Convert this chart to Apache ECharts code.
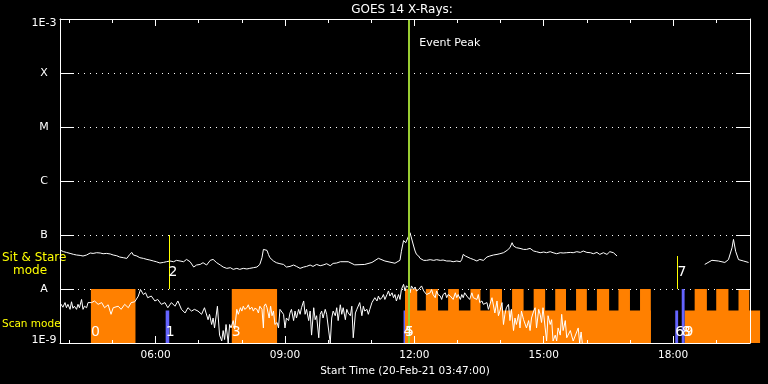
<!DOCTYPE html>
<html><head><meta charset="utf-8">
<script src="https://cdn.jsdelivr.net/npm/echarts@6/dist/echarts.min.js"></script>
<style>html,body{margin:0;padding:0;background:#000;}#c{width:768px;height:384px;}</style>
</head><body><div id="c"></div>
<script>
const START = '03:47';
const END = '19:47';
const FONT = 'DejaVu Sans';
const xHourTicks = [4,5,6,7,8,9,10,11,12,13,14,15,16,17,18,19];
const xTickHours = [6,9,12,15,18];
const xTickLabels = ['06:00','09:00','12:00','15:00','18:00'];
const yTickLabels = ['1E-9','A','B','C','M','X','1E-3'];

// GOES long channel (minutes after start, flux W/m^2); null = data gap
const longMin = [1,5,9,14,19,23,28,32,37,42,46,51,56,60,65,70,74,79,83,88,93,95,97,100,102,107,111,116,121,125,130,134,139,144,148,153,158,162,167,172,176,181,186,190,195,199,204,209,211,213,218,223,227,232,237,241,246,250,255,260,264,269,274,278,281,283,285,288,290,292,297,301,306,311,315,320,325,329,334,339,343,348,352,357,362,366,371,376,380,385,390,401,410,424,434,443,452,466,473,475,478,481,482,487,489,492,494,496,499,501,503,506,510,515,520,524,529,533,538,543,547,552,557,559,561,564,566,571,575,580,584,589,594,598,603,608,612,617,622,626,629,631,635,640,645,649,654,659,663,668,673,677,682,686,691,696,700,705,710,714,719,724,728,733,738,742,747,751,756,761,765,770,772,775,
840,897,907,916,925,930,935,937,940,944,951,958];
const longFlux = [5.19e-8,4.91e-8,4.76e-8,4.56e-8,4.37e-8,4.26e-8,4.19e-8,4.08e-8,4.26e-8,4.64e-8,4.56e-8,4.7e-8,4.64e-8,4.5e-8,4.56e-8,4.45e-8,4.26e-8,4.13e-8,3.91e-8,3.8e-8,3.69e-8,3.39e-8,4.37e-8,4.76e-8,4.26e-8,4.08e-8,3.8e-8,3.69e-8,3.53e-8,3.44e-8,3.3e-8,3.2e-8,3.03e-8,3.11e-8,3.2e-8,3.3e-8,3.2e-8,3.39e-8,3.3e-8,3.2e-8,3.53e-8,3.2e-8,2.55e-8,2.78e-8,2.85e-8,3.07e-8,2.78e-8,3.39e-8,3.69e-8,3.53e-8,3.07e-8,2.78e-8,2.55e-8,2.41e-8,2.48e-8,2.31e-8,2.41e-8,2.31e-8,2.41e-8,2.35e-8,2.41e-8,2.48e-8,2.55e-8,2.85e-8,3.8e-8,5.41e-8,5.82e-8,5.19e-8,4.37e-8,3.8e-8,3.3e-8,3.07e-8,2.94e-8,2.85e-8,2.55e-8,2.62e-8,2.78e-8,2.62e-8,2.41e-8,2.55e-8,2.62e-8,2.78e-8,2.62e-8,2.85e-8,2.7e-8,2.78e-8,2.94e-8,2.7e-8,2.98e-8,3.03e-8,3.2e-8,3.2e-8,2.8e-8,2.85e-8,3.1e-8,3.7e-8,3.3e-8,3.0e-8,3.4e-8,5.0e-8,7.9e-8,7.2e-8,7.5e-8,1.1e-7,1.15e-7,6.25e-8,5.05e-8,4.37e-8,4.08e-8,3.69e-8,3.53e-8,3.39e-8,3.39e-8,3.49e-8,3.39e-8,3.49e-8,3.39e-8,3.44e-8,3.3e-8,3.3e-8,3.2e-8,3.3e-8,3.2e-8,3.53e-8,4.37e-8,4.08e-8,3.91e-8,3.69e-8,3.53e-8,3.3e-8,3.53e-8,3.39e-8,3.91e-8,4.08e-8,4.26e-8,4.37e-8,4.5e-8,4.7e-8,5.19e-8,5.82e-8,7.2e-8,6.25e-8,5.82e-8,5.65e-8,5.41e-8,5.41e-8,5.65e-8,5.05e-8,4.91e-8,4.7e-8,4.84e-8,4.7e-8,4.91e-8,4.7e-8,4.5e-8,4.7e-8,4.64e-8,4.7e-8,4.76e-8,4.7e-8,4.91e-8,4.76e-8,5.05e-8,4.76e-8,4.7e-8,4.5e-8,4.76e-8,4.37e-8,4.7e-8,4.37e-8,4.91e-8,4.7e-8,4.37e-8,4.08e-8,
null,2.85e-8,3.4e-8,3.3e-8,3.1e-8,3.5e-8,5.8e-8,8.3e-8,5.0e-8,3.5e-8,3.3e-8,3.1e-8];

// GOES short channel (minutes after start, flux W/m^2)
const shortMin = [1,4,7,9,11,14,16,18,20,23,25,27,30,32,34,37,39,41,44,48,53,58,62,67,71,74,76,81,85,90,95,99,104,109,112,116,119,122,127,132,136,141,146,150,155,160,164,169,174,178,183,187,192,197,201,206,208,211,213,215,219,222,225,227,229,231,234,236,238,241,243,
246,248,251,253,255,257,260,262,264,267,269,271,274,276,278,281,283,284,286,288,290,291,293,295,297,299,302,304,306,308,311,313,315,318,320,322,325,327,329,332,334,336,339,341,343,346,348,350,353,355,357,360,362,364,366,369,371,376,378,380,383,385,387,390,392,394,397,399,401,404,406,408,411,413,415,417,420,422,424,427,429,431,434,436,438,441,443,445,448,450,452,455,457,459,462,464,466,468,471,473,475,478,480,482,
485,487,489,492,494,496,499,501,503,506,508,510,512,515,517,519,522,524,526,529,531,533,536,538,540,543,545,547,550,552,554,557,559,561,563,566,568,570,573,575,577,580,582,584,587,589,591,594,596,598,601,603,605,608,610,612,615,617,619,621,624,626,628,631,633,635,638,640,642,645,647,649,652,654,656,659,661,663,666,668,670,672,675,677,679,682,684,686,689,691,693,696,698,700,703,705,707,710,712,714,721,723,725,727];
const shortFlux = [5.3e-9,4.6e-9,5.6e-9,4.5e-9,5.2e-9,4.2e-9,5.8e-9,4.4e-9,4.8e-9,4.2e-9,5.2e-9,4.5e-9,6.4e-9,4.2e-9,4.8e-9,4.5e-9,5.6e-9,6.0e-9,5.6e-9,6.0e-9,5.2e-9,5.6e-9,4.5e-9,5.1e-9,3.4e-9,4.5e-9,4.2e-9,4.8e-9,4.2e-9,5.2e-9,4.5e-9,5.6e-9,5.8e-9,7.4e-9,9.8e-9,7.9e-9,8.5e-9,6.9e-9,7.4e-9,6.0e-9,6.4e-9,5.2e-9,5.6e-9,4.5e-9,5.6e-9,4.8e-9,6.0e-9,4.2e-9,3.6e-9,4.5e-9,3.9e-9,4.2e-9,3.9e-9,3.4e-9,4.5e-9,2.7e-9,3.4e-9,2.2e-9,2.9e-9,1.9e-9,4.8e-9,1.4e-9,1.09e-9,1.7e-9,1.16e-9,2.2e-9,1.0e-9,2.2e-9,1.9e-9,2.6e-9,1.8e-9,
4.2e-9,3.4e-9,4.5e-9,3.9e-9,4.8e-9,4.2e-9,4.5e-9,5.1e-9,4.2e-9,4.6e-9,3.9e-9,4.4e-9,4.2e-9,3.6e-9,4.8e-9,4.2e-9,1.9e-9,4.8e-9,5.3e-9,4.5e-9,4.8e-9,2.9e-9,4.8e-9,3.2e-9,3.9e-9,2.2e-9,2.4e-9,1.9e-9,4.2e-9,4.5e-9,3.4e-9,1.9e-9,2.9e-9,2.6e-9,3.6e-9,4.2e-9,2.6e-9,3.9e-9,2.9e-9,4.2e-9,3.4e-9,4.5e-9,6.0e-9,3.4e-9,4.2e-9,2.6e-9,3.9e-9,1.4e-9,4.5e-9,2.7e-9,3.2e-9,1.25e-9,3.4e-9,3.9e-9,2.9e-9,4.2e-9,3.4e-9,1.0e-9,2.9e-9,3.9e-9,3.2e-9,4.5e-9,2.6e-9,5.1e-9,3.4e-9,4.5e-9,2.7e-9,4.2e-9,3.6e-9,3.2e-9,4.8e-9,1.25e-9,3.6e-9,4.2e-9,4.5e-9,5.6e-9,3.2e-9,4.8e-9,3.9e-9,4.2e-9,3.4e-9,4.2e-9,5.6e-9,5.2e-9,6.9e-9,6.0e-9,7.4e-9,6.4e-9,6.9e-9,7.9e-9,6.4e-9,7.9e-9,9.2e-9,7.4e-9,8.5e-9,6.9e-9,7.9e-9,6.0e-9,7.9e-9,6.4e-9,9.8e-9,1.22e-8,9.2e-9,1.14e-8,
1.06e-8,8.5e-9,1.14e-8,9.8e-9,1.09e-8,9.2e-9,9.8e-9,9.8e-9,1.14e-8,9.2e-9,8.5e-9,7.9e-9,7.4e-9,8.5e-9,9.8e-9,7.9e-9,6.9e-9,9.2e-9,7.9e-9,7.4e-9,6.4e-9,7.9e-9,8.5e-9,6.9e-9,7.9e-9,7.4e-9,7.9e-9,6.4e-9,8.5e-9,6.9e-9,7.9e-9,6.4e-9,7.9e-9,6.9e-9,8.5e-9,7.4e-9,7.9e-9,6.4e-9,8.5e-9,6.9e-9,7.4e-9,6.4e-9,7.9e-9,5.6e-9,6.0e-9,5.2e-9,4.8e-9,5.6e-9,4.2e-9,4.5e-9,6.9e-9,6.4e-9,3.6e-9,6.0e-9,3.2e-9,3.9e-9,5.6e-9,2.2e-9,3.4e-9,4.5e-9,5.2e-9,2.6e-9,4.2e-9,1.7e-9,2.9e-9,2.2e-9,3.4e-9,1.9e-9,3.9e-9,2.7e-9,2.9e-9,1.9e-9,2.6e-9,1.7e-9,2.9e-9,3.9e-9,4.5e-9,1.9e-9,4.2e-9,3.4e-9,2.4e-9,4.5e-9,1.9e-9,1.09e-9,3.2e-9,2.2e-9,2.7e-9,1.09e-9,1.4e-9,1.09e-9,1.9e-9,1.4e-9,3.4e-9,1.7e-9,2.6e-9,1.25e-9,1.25e-9,1.7e-9,1.35e-9,1.09e-9,1.9e-9,1.0e-9,1.6e-9,0.9e-9];

// Scan-mode observations (full band)
const scanStart = ['04:30','07:46','11:47','12:16','12:47','13:18','13:45','14:16','14:46','15:16','15:45','16:14','16:44','17:14','18:30','19:00','19:31'];
const scanEnd   = ['05:32','08:49','12:04','12:33','13:02','13:32','14:02','14:32','15:02','15:31','16:00','16:31','17:00','17:29','18:47','19:17','19:46'];
const scanTop = 1e-8;
// Lower-level scan coverage
const lowStart = ['11:47','18:16'];
const lowEnd   = ['17:29','20:01'];
const lowTop = 4e-9;
// Blue observations
const blueStart = ['06:14','11:45','18:03','18:12'];
const blueEnd   = ['06:19','11:47','18:07','18:16'];
const blueTop   = [4e-9,4e-9,4e-9,1e-8];
// Sit & stare markers
const stareTime = ['06:18','18:06'];
const stareTop  = [1e-7,4.1e-8];
const stareBottom = 1e-8;
// Numbered observation labels
const obsNum  = ['0','1','2','3','4','5','6','7','8','9'];
const obsTime = ['04:30','06:14','06:18','07:46','11:45','11:47','18:03','18:06','18:12','18:16'];
const obsBand = ['scan','scan','stare','scan','scan','scan','scan','stare','scan','scan'];
const peakTime = '11:53';
const peakLabel = 'Event Peak';

const toH = s => { const p = s.split(':').map(Number); return p[0] + p[1]/60; };
const H0 = toH(START), H1 = toH(END);
const minToH = m => H0 + m/60;

const longData = longMin.map((m,i)=>[minToH(m), longFlux[i] == null ? '-' : longFlux[i]]);
const shortData = shortMin.map((m,i)=>[minToH(m), shortFlux[i]]);

function rectSeries(starts, ends, tops, color, z){
  return {
    type:'custom', z:z, clip:false, silent:true,
    encode:{x:[0,1], y:[2,3]},
    data: starts.map((s,i)=>[toH(s), toH(ends[i]), 1e-9, Array.isArray(tops)?tops[i]:tops]),
    renderItem:(params, api)=>{
      const a = api.coord([api.value(0), api.value(3)]);
      const b = api.coord([api.value(1), api.value(2)]);
      return {type:'rect', shape:{x:a[0], y:a[1], width:b[0]-a[0], height:b[1]-a[1]}, style:{fill:color, stroke:null}};
    }
  };
}

const chart = echarts.init(document.getElementById('c'), null, {renderer:'canvas'});
const white = '#ffffff';
const xBase = {type:'value', min:H0, max:H1, splitLine:{show:false}, z:10};
chart.setOption({
  animation:false,
  backgroundColor:'#000000',
  grid:[
    {left:60, right:18, top:19, bottom:41, containLabel:false},
    {left:60, right:18, top:19, bottom:41, containLabel:false}
  ],
  graphic:[
    {type:'text', x:402, y:10, style:{text:'GOES 14 X-Rays:', fill:white, font:'12px "DejaVu Sans"', align:'center', verticalAlign:'middle'}},
    {type:'text', x:2, y:258, style:{text:'Sit & Stare', fill:'#ffff00', font:'12px "DejaVu Sans"', verticalAlign:'middle'}},
    {type:'text', x:13, y:271, style:{text:'mode', fill:'#ffff00', font:'12px "DejaVu Sans"', verticalAlign:'middle'}},
    {type:'text', x:2, y:324, style:{text:'Scan mode', fill:'#ffff00', font:'10.5px "DejaVu Sans"', verticalAlign:'middle'}}
  ],
  xAxis:[
    Object.assign({}, xBase, {gridIndex:0, position:'bottom',
      axisLine:{show:true, lineStyle:{color:white, width:1}},
      axisTick:{show:true, inside:true, length:3, customValues:xHourTicks, lineStyle:{color:white}},
      axisLabel:{show:false}}),
    Object.assign({}, xBase, {gridIndex:0, position:'top',
      axisLine:{show:true, lineStyle:{color:white, width:1}},
      axisTick:{show:true, inside:true, length:4, customValues:xHourTicks, lineStyle:{color:white}},
      axisLabel:{show:false}}),
    Object.assign({}, xBase, {gridIndex:1, position:'bottom',
      axisLine:{show:false},
      axisTick:{show:true, inside:true, length:7, customValues:xTickHours, lineStyle:{color:white}},
      axisLabel:{show:true, customValues:xTickHours, color:white, fontFamily:FONT, fontSize:10.5, margin:7,
        formatter:v=>xTickLabels[xTickHours.indexOf(Math.round(v))] || ''},
      name:'Start Time (20-Feb-21 03:47:00)', nameLocation:'middle', nameGap:19,
      nameTextStyle:{color:white, fontFamily:FONT, fontSize:10.5}}),
    Object.assign({}, xBase, {gridIndex:1, position:'top',
      axisLine:{show:false},
      axisTick:{show:true, inside:true, length:7, customValues:xTickHours, lineStyle:{color:white}},
      axisLabel:{show:false}})
  ],
  yAxis:[
    {type:'log', logBase:10, min:1e-9, max:1e-3, gridIndex:0, position:'left', z:0,
      axisLine:{show:true, lineStyle:{color:white}},
      axisTick:{show:true, inside:true, length:14, lineStyle:{color:white}},
      splitLine:{show:true, lineStyle:{color:white, width:1, type:[1,5]}},
      axisLabel:{show:true, showMinLabel:true, showMaxLabel:true, color:white, fontFamily:FONT, fontSize:11, align:'center', margin:16,
        formatter:v=>{ const e = Math.round(Math.log10(v)); const s = yTickLabels[e+9] || '';
          if (e === -3) return '{t|'+s+'}'; if (e === -9) return '{b|'+s+'}'; return s; },
        rich:{t:{padding:[8,0,0,0], color:white, fontFamily:FONT, fontSize:11}, b:{padding:[0,0,6,0], color:white, fontFamily:FONT, fontSize:11}}}},
    {type:'log', logBase:10, min:1e-9, max:1e-3, gridIndex:0, position:'right', z:10,
      axisLine:{show:true, lineStyle:{color:white}},
      axisTick:{show:true, inside:true, length:14, lineStyle:{color:white}},
      splitLine:{show:false}, axisLabel:{show:false}},
    {type:'log', logBase:10, min:1e-9, max:1e-3, gridIndex:1, show:false}
  ],
  series:[
    rectSeries(lowStart, lowEnd, lowTop, '#ff8000', 1),
    rectSeries(scanStart, scanEnd, scanTop, '#ff8000', 1),
    rectSeries(blueStart, blueEnd, blueTop, '#6464ff', 1),
    {type:'line', data:shortData, symbol:'none', z:3, silent:true, connectNulls:false,
      lineStyle:{color:white, width:1}},
    {type:'line', data:longData, symbol:'none', z:3, silent:true, connectNulls:false,
      lineStyle:{color:white, width:1}},
    {type:'custom', z:4, silent:true, encode:{x:0, y:[1,2]},
      data: stareTime.map((t,i)=>[toH(t), stareBottom, stareTop[i]]),
      renderItem:(params, api)=>{
        const a = api.coord([api.value(0), api.value(1)]);
        const b = api.coord([api.value(0), api.value(2)]);
        const x = Math.round(a[0]);
        return {type:'rect', shape:{x:x, y:b[1], width:1, height:a[1]-b[1]}, style:{fill:'#ffff00', stroke:null}};
      }},
    {type:'custom', z:5, silent:true, encode:{x:0},
      data:[[toH(peakTime)]],
      renderItem:(params, api)=>{
        const a = api.coord([api.value(0), 1e-9]);
        const b = api.coord([api.value(0), 1e-3]);
        const x = Math.round(a[0]) - 1;
        return {type:'group', children:[
          {type:'rect', shape:{x:x, y:b[1], width:2, height:a[1]-b[1]}, style:{fill:'#9acd32', stroke:null}},
          {type:'text', style:{text:peakLabel, x:b[0]+10, y:b[1]+24, fill:white, font:'11px "DejaVu Sans"', verticalAlign:'middle'}}
        ]};
      }},
    {type:'custom', z:6, silent:true, clip:false, encode:{x:0},
      data: obsTime.map((t,i)=>[toH(t), i]),
      renderItem:(params, api)=>{
        const i = api.value(1);
        const base = obsBand[i] === 'scan' ? api.coord([api.value(0), 1e-9]) : api.coord([api.value(0), 1e-8]);
        const y = obsBand[i] === 'scan' ? base[1] - 10.5 : base[1] - 17;
        return {type:'text', style:{text:obsNum[i], x:base[0], y:y, fill:white, font:'14px "DejaVu Sans"', verticalAlign:'middle', align:'left'}};
      }}
  ]
});
</script></body></html>
